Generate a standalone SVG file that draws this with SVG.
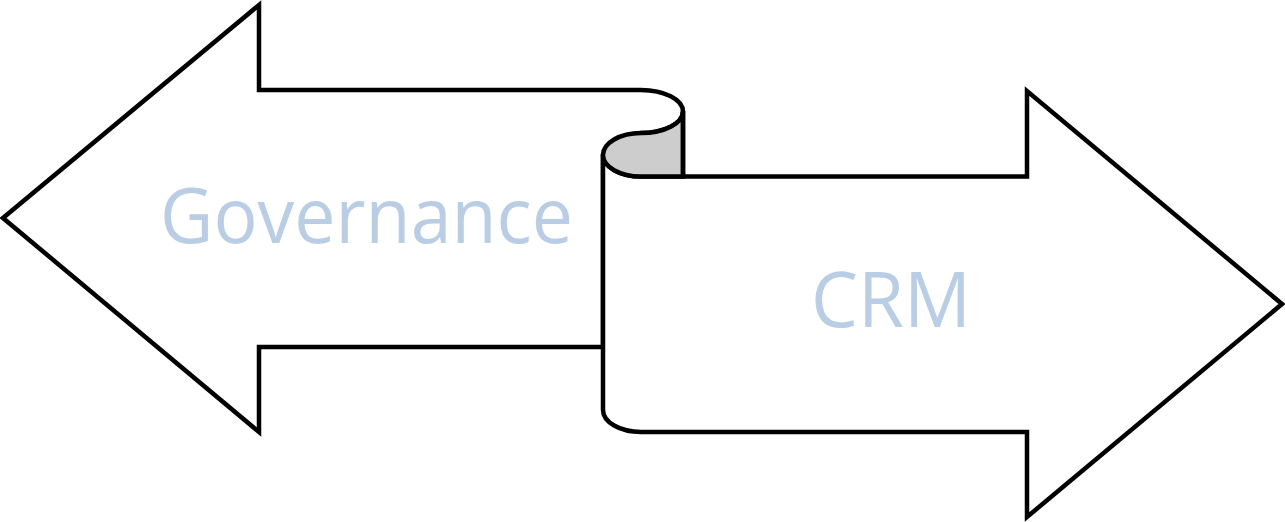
<svg xmlns="http://www.w3.org/2000/svg" width="1285" height="522" viewBox="0 0 1285 522">
<style>
.sh{fill:#fff;stroke:#000;stroke-width:4.5;stroke-linejoin:miter}
.sd{fill:#cdcdcd;stroke:#000;stroke-width:4.5}
.ln{fill:none;stroke:#000;stroke-width:4.5}
.lb{font-family:"Open Sans","Noto Sans",sans-serif;font-size:77px;fill:#b9cde5}
</style>
<rect width="1285" height="522" fill="#fff"/>
<g id="governance">
<path class="sh" d="M603,347 L259,347 L259,432 L3,218 L259,5 L259,90 L641,90 A42 21.5 0 0 1 641,133 L603,155 Z"/>
<text class="lb" x="160" y="243" textLength="413" lengthAdjust="spacingAndGlyphs">Governance</text>
</g>
<g id="crm">
<path class="sh" d="M603,155 L603,410 A38 22 0 0 0 641,432 L1027,432 L1027,517 L1282,304 L1027,91 L1027,176.5 L641,176.5 A38 21.5 0 0 1 603,155 Z"/>
<path class="sd" d="M683,111.5 A42 21.5 0 0 1 641,133 A38 22 0 0 0 603,155 A38 21.5 0 0 0 641,176.5 L683,176.5 Z"/>
<path class="ln" d="M683,111 L683,177"/>
<text class="lb" x="811" y="327" textLength="160" lengthAdjust="spacingAndGlyphs">CRM</text>
</g>
<g id="connectors"></g>
</svg>
